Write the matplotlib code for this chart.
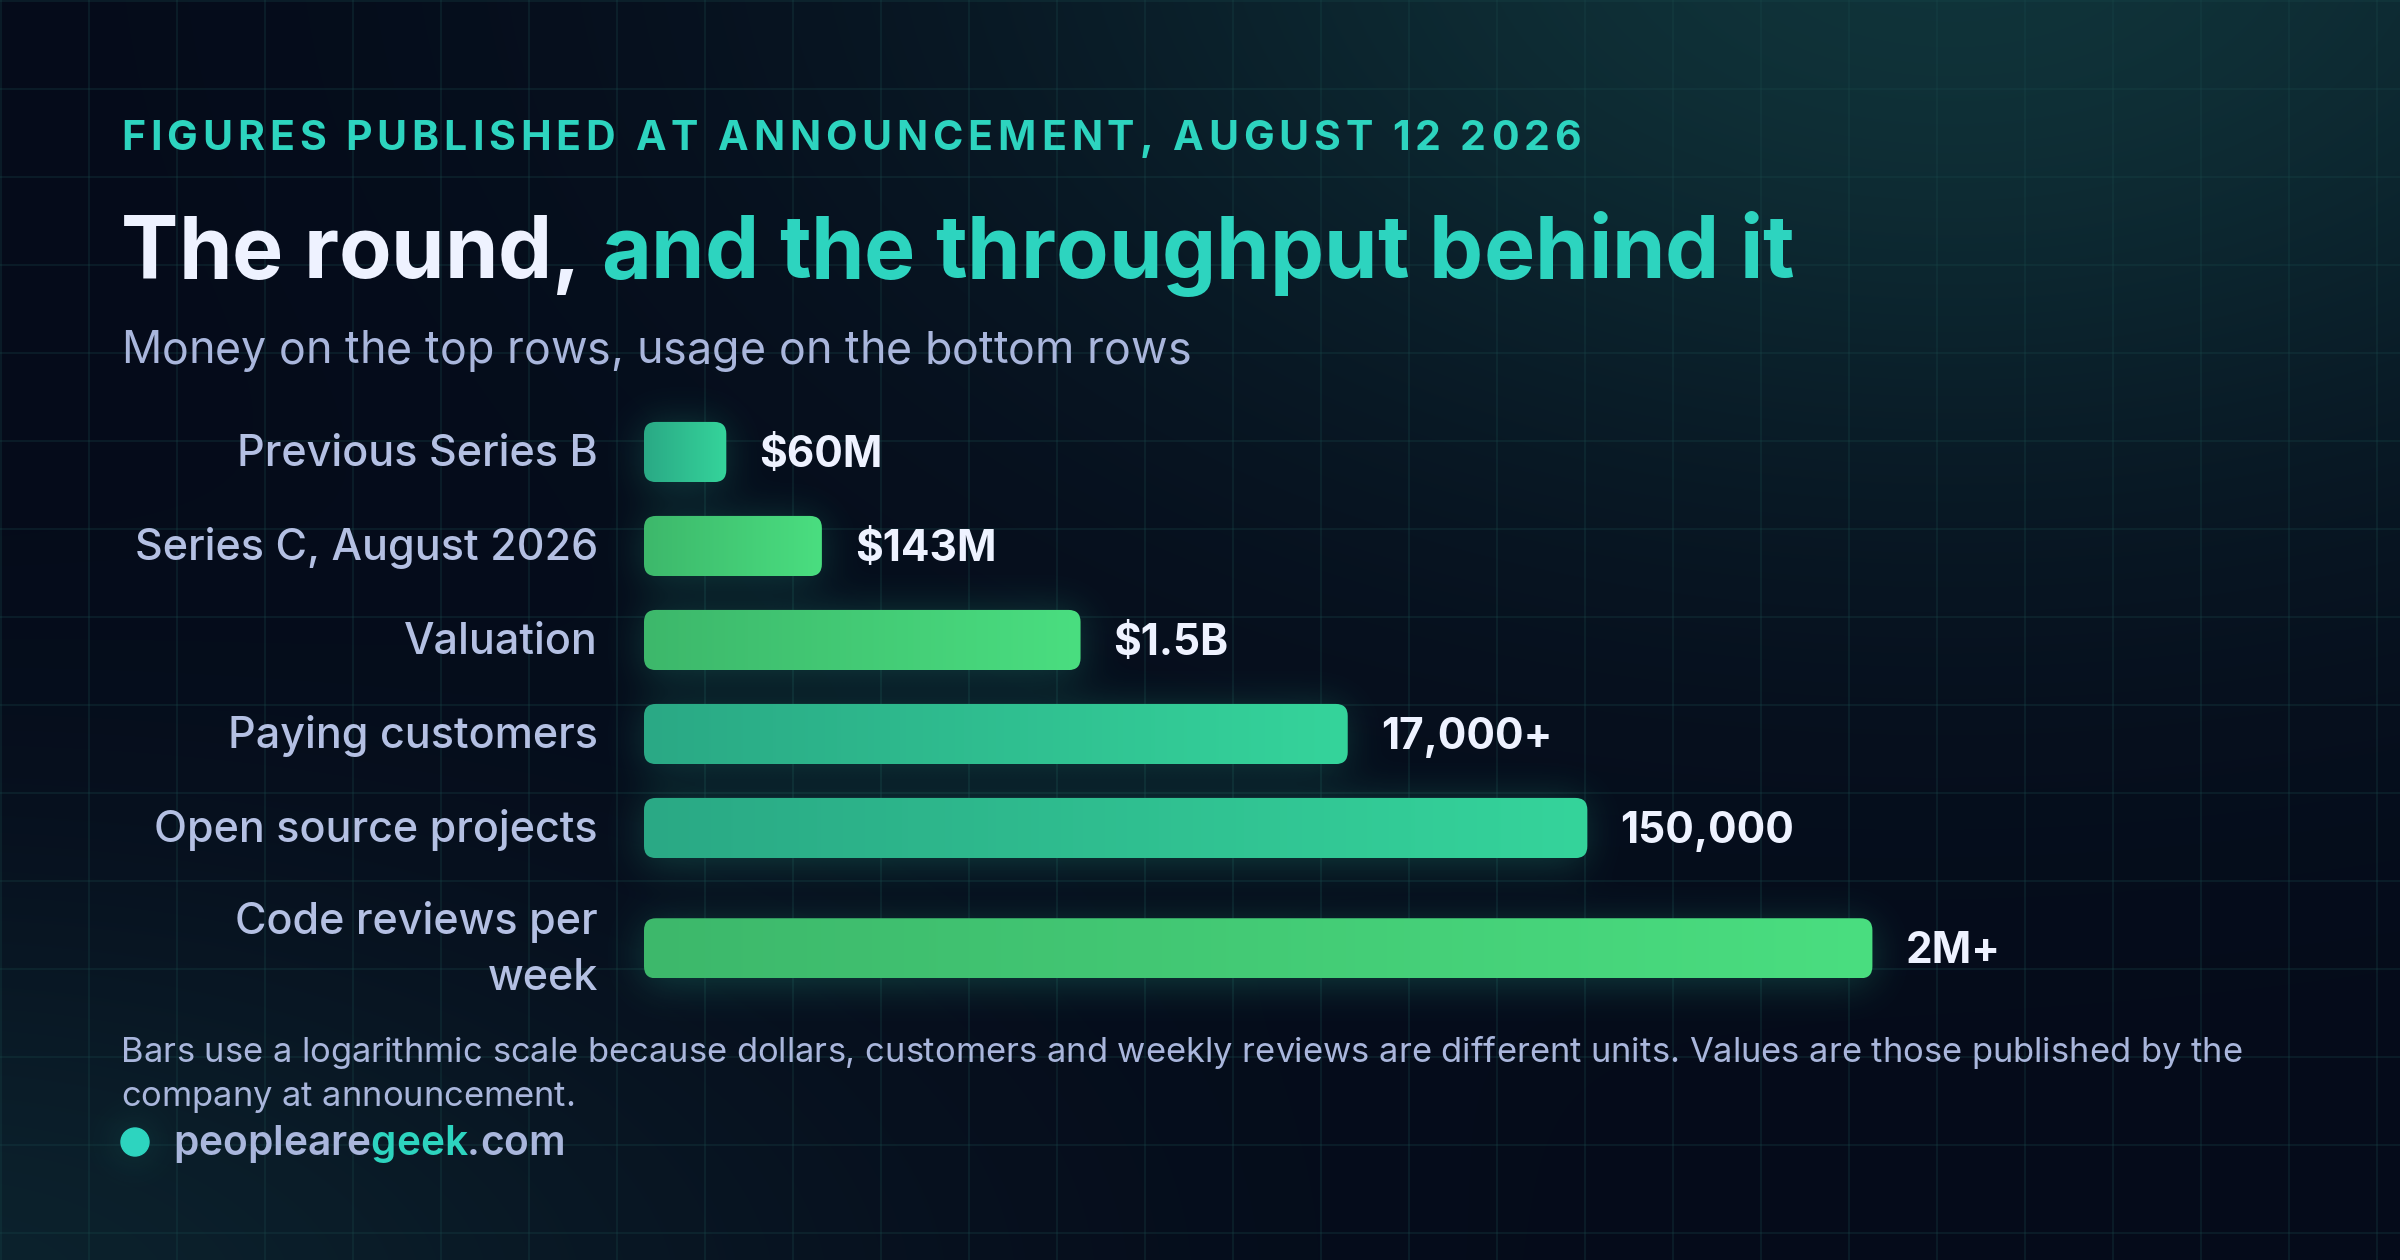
import numpy as np
import matplotlib
matplotlib.use("Agg")
import matplotlib.pyplot as plt
from matplotlib.patches import FancyBboxPatch, Circle
from matplotlib.font_manager import FontProperties
from matplotlib.colors import to_rgb

plt.rcParams["font.family"] = ["Inter", "DejaVu Sans"]
FONT = ["Inter", "DejaVu Sans"]

W_PX, H_PX = 2400, 1260

# data (dollar rows in millions of dollars)
categories = ["Previous Series B", "Series C, August 2026", "Valuation",
              "Paying customers", "Open source projects", "Code reviews per\nweek"]
values = [60, 143, 1500, 17000, 150000, 2000000]
value_labels = ["$60M", "$143M", "$1.5B", "17,000+", "150,000", "2M+"]
bar_kind = ["teal", "green", "green", "teal", "teal", "green"]

kicker = "FIGURES PUBLISHED AT ANNOUNCEMENT, AUGUST 12 2026"
title_a = "The round, "
title_b = "and the throughput behind it"
subtitle = "Money on the top rows, usage on the bottom rows"
note_lines = ["Bars use a logarithmic scale because dollars, customers and weekly reviews "
              "are different units. Values are those published by the",
              "company at announcement."]
brand_parts = ["peopleare", "geek", ".com"]

# style
BG = "#050b1a"
GRID = "#1a4a4c"
TEAL = "#2dd4bf"
LAV = "#a9b6dc"
LABEL = "#b4c0e3"
WHITE = "#eef2ff"
GRADS = {"teal": ("#2aa985", "#35d49b"), "green": ("#3db86b", "#4ade80")}

# layout (pixels)
row_pos = [0, 1, 2, 3, 4, 5.28]
XMIN = 28.4
PX_PER_DECADE = 253.4
AX_LEFT, AX_W = 644, 1700
AX_TOP, AX_BOT = 405, 995

fig = plt.figure(figsize=(24, 12.6), dpi=100)
fig.patch.set_facecolor(BG)

bg = fig.add_axes([0, 0, 1, 1])
bg.set_xlim(0, W_PX)
bg.set_ylim(H_PX, 0)
bg.set_autoscale_on(False)
bg.axis("off")

# background with soft glows
yy, xx = np.mgrid[0:H_PX:4, 0:W_PX:4].astype(float)
base = np.array(to_rgb(BG))
g1 = np.exp(-(((xx - 1950) / 950) ** 2 + ((yy + 80) / 560) ** 2))
g2 = np.exp(-(((xx + 100) / 900) ** 2 + ((yy - 1300) / 420) ** 2))
img = (base + g1[..., None] * (np.array(to_rgb("#10343a")) - base)
       + g2[..., None] * (np.array(to_rgb("#0c222d")) - base))
bg.imshow(np.clip(img, 0, 1), extent=(0, W_PX, H_PX, 0), aspect="auto",
          interpolation="bilinear", zorder=0)

for gx in range(1, W_PX, 88):
    bg.axvline(gx, color=GRID, lw=1.1, alpha=0.35, zorder=1)
for gy in range(1, H_PX, 88):
    bg.axhline(gy, color=GRID, lw=1.1, alpha=0.35, zorder=1)

# data axes: log scale drives bar lengths
ax = fig.add_axes([AX_LEFT / W_PX, 1 - AX_BOT / H_PX, AX_W / W_PX, (AX_BOT - AX_TOP) / H_PX])
ax.set_xscale("log")
ax.set_xlim(XMIN, XMIN * 10 ** (AX_W / PX_PER_DECADE))
ax.set_ylim((AX_BOT - 452) / 94, (AX_TOP - 452) / 94)
ax.axis("off")
bars = ax.barh(row_pos, np.array(values) - XMIN, left=XMIN, height=0.64, alpha=0)

boxes = []
for p in bars.patches:
    bb = p.get_window_extent()
    boxes.append((bb.x0, bb.x1, H_PX - bb.y1, H_PX - bb.y0))

# glow under bars and brand dot
mask = np.zeros((H_PX // 4, W_PX // 4))
for x0, x1, y0, y1 in boxes:
    mask[int((y0 + 6) / 4):int((y1 + 6) / 4), int(x0 / 4):int(x1 / 4)] = 1
dot_xy, dot_r = (135, 1142), 14
mask[int((dot_xy[1] - dot_r) / 4):int((dot_xy[1] + dot_r) / 4),
     int((dot_xy[0] - dot_r) / 4):int((dot_xy[0] + dot_r) / 4)] = 1


def blur(a, s):
    r = int(3 * s)
    k = np.exp(-0.5 * (np.arange(-r, r + 1) / s) ** 2)
    k /= k.sum()
    a = np.apply_along_axis(lambda m: np.convolve(m, k, mode="same"), 0, a)
    return np.apply_along_axis(lambda m: np.convolve(m, k, mode="same"), 1, a)


glow = blur(mask, 5)
rgba = np.zeros(glow.shape + (4,))
rgba[..., :3] = to_rgb("#2fc9a0")
rgba[..., 3] = np.clip(glow * 0.26, 0, 1)
bg.imshow(rgba, extent=(0, W_PX, H_PX, 0), aspect="auto", interpolation="bilinear", zorder=2)

renderer = fig.canvas.get_renderer()


def ink_w(s, prop):
    return renderer.get_text_width_height_descent(s, prop, ismath=False)[0]


def draw_run(parts, x, y, size, weight, tracking=0.0, target=None, fit=False):
    prop = FontProperties(family=FONT, size=size, weight=weight)
    full = "".join(s for s, _ in parts)
    if target is not None and fit:
        size = size * target / ink_w(full, prop)
        prop = FontProperties(family=FONT, size=size, weight=weight)
    if target is not None:
        tracking = (target - ink_w(full, prop)) / (len(full) - 1)
    i = 0
    for s, color in parts:
        for ch in s:
            if ch != " ":
                xi = x + ink_w(full[:i + 1], prop) - ink_w(ch, prop) + i * tracking
                bg.text(xi, y, ch, fontproperties=prop, color=color, ha="left",
                        va="baseline", zorder=5, parse_math=False)
            i += 1
    return size, tracking


# header
draw_run([(kicker, TEAL)], 121, 150, 29.5, "bold", target=1460)
draw_run([(title_a, WHITE), (title_b, TEAL)], 121, 278, 58, "bold", target=1673, fit=True)
draw_run([(subtitle, LAV)], 121, 363, 28, "normal", target=1070, fit=True)

# bars
for (x0, x1, y0, y1), kind, lab, vlab in zip(boxes, bar_kind, categories, value_labels):
    patch = FancyBboxPatch((x0, y0), x1 - x0, y1 - y0,
                           boxstyle="round,pad=0,rounding_size=12",
                           facecolor="none", edgecolor="none", zorder=3)
    bg.add_patch(patch)
    c0, c1 = (np.array(to_rgb(c)) for c in GRADS[kind])
    t = np.linspace(0, 1, 256)[None, :, None]
    grad = c0 + (c1 - c0) * t
    im = bg.imshow(grad, extent=(x0, x1, y1, y0), aspect="auto",
                   interpolation="bilinear", zorder=3)
    im.set_clip_path(patch)

    yc = (y0 + y1) / 2
    bg.text(x1 + 33, yc + 15, vlab, color=WHITE, fontsize=30.5, fontweight="bold",
            ha="left", va="baseline", zorder=5, parse_math=False)
    lines = lab.split("\n")
    first = yc + 14 - (len(lines) - 1) * 28
    for k, line in enumerate(lines):
        bg.text(598, first + k * 56, line, color=LABEL, fontsize=31, fontweight="medium",
                ha="right", va="baseline", zorder=5, parse_math=False)

# footer
sz, tr = draw_run([(note_lines[0], LAV)], 121, 1062, 23, "normal", target=2121, fit=True)
draw_run([(note_lines[1], LAV)], 121, 1106, sz, "normal", tracking=tr)

bg.add_patch(Circle(dot_xy, dot_r, color=TEAL, zorder=5))
draw_run([(brand_parts[0], LAV), (brand_parts[1], TEAL), (brand_parts[2], LAV)],
         173, 1155, 27, "semibold", target=392, fit=True)

fig.savefig("out.png", dpi=100, facecolor=BG)
